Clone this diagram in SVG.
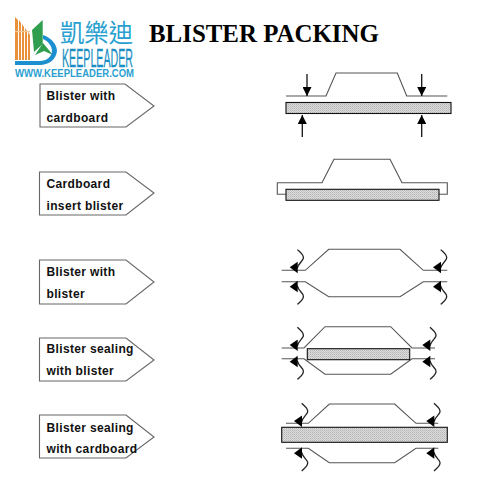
<svg xmlns="http://www.w3.org/2000/svg" width="500" height="500" viewBox="0 0 500 500">
<style>
.tag{fill:#fff;stroke:#666;stroke-width:1.1}
.lbl{font-family:"Liberation Sans",Arial,sans-serif;font-weight:700;font-size:12px;letter-spacing:.35px;fill:#111}
.bl{fill:none;stroke:#555;stroke-width:1.1}
.board{fill:url(#hatch);stroke:#111;stroke-width:1.1}
.arr{stroke:#111;stroke-width:1.3;fill:none}
.org{fill:#e8913a}
.grn{fill:#2f9e4f}
.blu{fill:#1b8fd0}
</style>
<defs>
<pattern id="hatch" width="2" height="2" patternUnits="userSpaceOnUse">
<rect width="2" height="2" fill="#dcdcdc"/><rect width="1" height="1" fill="#b4b4b4"/><rect x="1" y="1" width="1" height="1" fill="#c6c6c6"/>
</pattern>
<marker id="ah" viewBox="0 0 10 10" refX="10" refY="5" markerWidth="9" markerHeight="9" markerUnits="userSpaceOnUse" orient="auto"><path d="M0 0L10 5L0 10Z" fill="#000"/></marker>
<g id="sq">
<path d="M6.7,-17.7C10,-14.5 14,-12 12.5,-8.500C11.500,-6 8,-4 6.500,1" fill="none" stroke="#222" stroke-width="1.300"/>
<path d="M-1,0L7,-5.500L7,6Z" fill="#000"/>
</g>
</defs>
<rect width="500" height="500" fill="#fff"/>
<g id="logo">
<path class="org" d="M15,17L18,20V60H15Z"/><path class="org" d="M19,20L21,23V60H19Z"/><path class="org" d="M22,24L24,27V60H22Z"/><path class="org" d="M25,28L27,31V60H25Z"/><path class="org" d="M28,32L30,35V60H28Z"/>
<rect x="15" y="31" width="15" height="1.200" fill="#f4c79a"/>
<path class="grn" d="M32,30L42.700,20V44L34,52Z"/>
<path class="grn" d="M35,55L43,43L53,55L44,51Z"/>
<path class="blu" d="M43,35C52,38 57,45 57,51C56,60 48,65 40,65H15V61H40C46,61 52,57 52,51C52,46 48,41 43,39Z"/>
<text x="60" y="42" font-family="'Noto Sans CJK TC','Noto Sans CJK SC',sans-serif" font-size="25" fill="#2a9fd0" textLength="73" lengthAdjust="spacingAndGlyphs">凱樂迪</text>
<text x="62" y="66.500" font-family="'Liberation Sans',Arial,sans-serif" font-size="25.500" fill="#1b8fc4" stroke="#1b8fc4" stroke-width=".3" textLength="71" lengthAdjust="spacingAndGlyphs">KEEPLEADER</text>
<text x="15" y="77" font-family="'Liberation Sans',Arial,sans-serif" font-size="10.500" font-weight="700" fill="#2a9fd0" textLength="119" lengthAdjust="spacingAndGlyphs">WWW.KEEPLEADER.COM</text>
</g>
<text id="title" x="149" y="42" font-family="'Liberation Serif','Times New Roman',serif" font-weight="700" font-size="24.900" fill="#000">BLISTER PACKING</text>
<g id="node-1"><path class="tag" d="M40,84H125L154,106L126,127H40Z"/><text class="lbl" x="46.500" y="100">Blister with</text><text class="lbl" x="46.500" y="122">cardboard</text></g>
<g id="node-2"><path class="tag" d="M39.500,172H126L154,193L126,215H39.500Z"/><text class="lbl" x="46.500" y="188">Cardboard</text><text class="lbl" x="46.500" y="210">insert blister</text></g>
<g id="node-3"><path class="tag" d="M39.500,260H126L154,282L126,304H39.500Z"/><text class="lbl" x="46.500" y="276">Blister with</text><text class="lbl" x="46.500" y="298">blister</text></g>
<g id="node-4"><path class="tag" d="M39.500,338H126L154,360L126,381H39.500Z"/><text class="lbl" x="46.500" y="353">Blister sealing</text><text class="lbl" x="46.500" y="375">with blister</text></g>
<g id="node-5"><path class="tag" d="M39.500,415H126L154,437L126,458H39.500Z"/><text class="lbl" x="46.500" y="432">Blister sealing</text><text class="lbl" x="46.500" y="453">with cardboard</text></g>
<g id="connectors">
<g id="fig-1">
<path class="bl" d="M286,96H326L336,73H397.300L406.700,96H447.300"/>
<rect class="board" x="286" y="102.500" width="165" height="11"/>
<path class="arr" marker-end="url(#ah)" d="M307,74V96"/><path class="arr" marker-end="url(#ah)" d="M421.700,74V96"/>
<path class="arr" marker-end="url(#ah)" d="M302.300,137V115"/><path class="arr" marker-end="url(#ah)" d="M421.700,137V115"/>
</g>
<g id="fig-2">
<path class="bl" d="M286,194.300H277.300V182.700H322L334,159.300H390L402,182.700H447.300V194.300H439"/>
<rect class="board" x="286" y="189.300" width="153" height="11"/>
</g>
<g id="fig-3">
<path class="bl" d="M281.700,270.300H305.300L328.700,249.300H400L423.300,270.300H447.300"/>
<path class="bl" d="M281.700,281.700H305.300L328.700,296.700H400L423.300,281.700H447.300"/>
<use href="#sq" x="290.700" y="267.300"/><use href="#sq" x="434" y="267.300"/>
<use href="#sq" transform="translate(290.700 286.700) scale(1 -1)"/><use href="#sq" transform="translate(434 286.700) scale(1 -1)"/>
</g>
<g id="fig-4">
<path class="bl" d="M281.700,348H304L325,326.700H390.700L412,348H435"/>
<path class="bl" d="M281.700,358.700H304L325,374.300H390.700L412,358.700H435"/>
<rect class="board" x="307.300" y="348.700" width="102.400" height="11"/>
<use href="#sq" x="290.700" y="345"/><use href="#sq" x="423.300" y="345"/>
<use href="#sq" transform="translate(290.700 361.700) scale(1 -1)"/><use href="#sq" transform="translate(423.300 361.700) scale(1 -1)"/>
</g>
<g id="fig-5">
<path class="bl" d="M286,423.300H308.300L329.300,404H394.700L416,423.300H438.300"/>
<path class="bl" d="M286,448.300H308.300L329.300,462.700H394.700L416,448.300H438.300"/>
<rect class="board" x="281.700" y="427.300" width="165.600" height="15"/>
<use href="#sq" x="295" y="421"/><use href="#sq" x="427.300" y="421"/>
<use href="#sq" transform="translate(295 453.300) scale(1 -1)"/><use href="#sq" transform="translate(427.300 453.300) scale(1 -1)"/>
</g>
</g>
</svg>
